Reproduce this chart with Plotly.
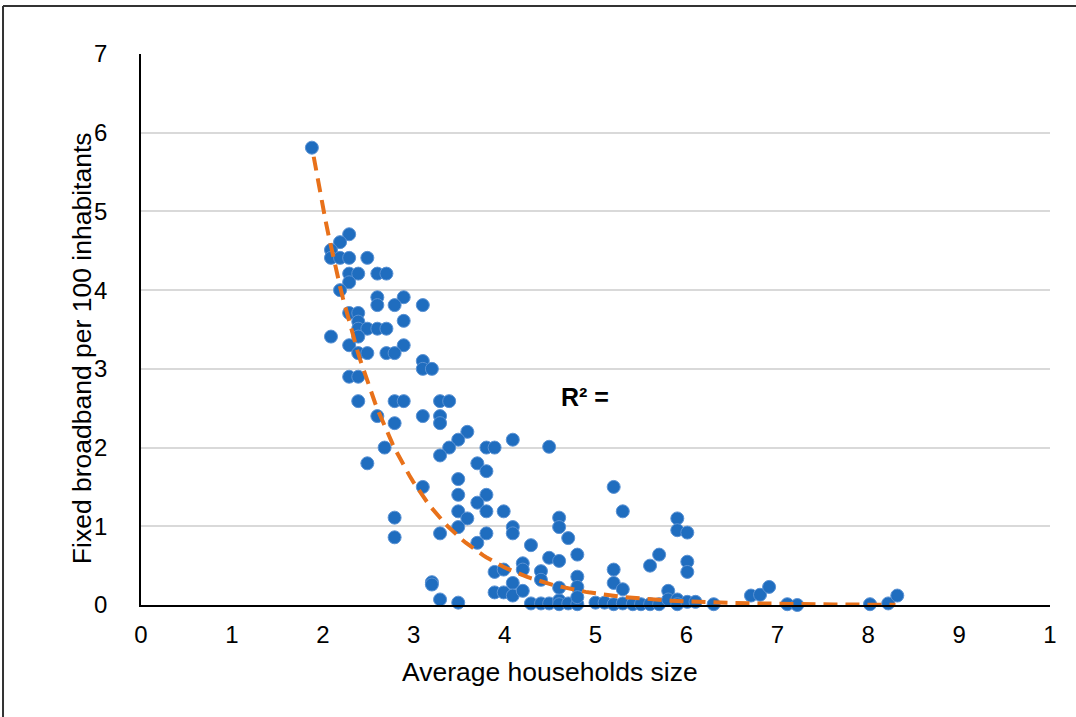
import numpy as np
import plotly.graph_objects as go

# Average households size (x) and fixed broadband per 100 inhabitants (y)
household_size = [
    1.88, 2.29, 2.19, 2.09, 2.09, 2.19, 2.29, 2.49, 2.29, 2.39, 2.60, 2.70, 2.29, 2.19,
    2.60, 2.89, 2.60, 2.79, 3.10, 2.29, 2.39, 2.89, 2.39, 2.39, 2.49, 2.60, 2.70, 2.09,
    2.39, 2.29, 2.89, 2.39, 2.49, 2.70, 2.79, 3.10, 3.10, 3.20, 2.29, 2.39, 2.39, 2.79,
    2.89, 3.29, 3.39, 2.60, 2.79, 3.10, 3.29, 3.29, 3.59, 3.49, 3.39, 3.29, 2.68, 2.49,
    3.80, 3.89, 4.09, 3.70, 3.80, 3.49, 3.10, 3.49, 3.80, 3.70, 3.99, 3.49, 3.80, 3.59,
    2.79, 4.09, 4.09, 3.49, 3.29, 3.80, 2.79, 3.70, 4.29, 4.20, 4.20, 3.89, 3.99, 4.09,
    3.20, 3.20, 3.29, 3.49, 3.89, 3.99, 4.09, 4.20, 4.29, 4.40, 4.49, 4.60, 4.60, 4.70,
    4.80, 4.49, 4.49, 4.60, 4.60, 4.70, 4.60, 4.80, 4.40, 4.40, 4.80, 4.80, 4.60, 4.80,
    5.00, 5.10, 5.20, 5.30, 5.20, 5.20, 5.30, 5.20, 5.30, 5.41, 5.50, 5.60, 5.70, 5.80,
    5.90, 5.90, 6.01, 6.01, 6.01, 5.60, 5.70, 5.80, 5.90, 5.90, 6.01, 6.10, 6.30, 6.71,
    6.81, 6.91, 7.11, 7.22, 8.02, 8.22, 8.32,
]
broadband = [
    5.81, 4.71, 4.61, 4.51, 4.41, 4.41, 4.41, 4.41, 4.21, 4.21, 4.21, 4.21, 4.10, 4.00,
    3.91, 3.91, 3.81, 3.81, 3.81, 3.71, 3.71, 3.61, 3.60, 3.51, 3.51, 3.51, 3.51, 3.41,
    3.41, 3.30, 3.30, 3.20, 3.20, 3.20, 3.20, 3.10, 3.00, 3.00, 2.90, 2.90, 2.59, 2.59,
    2.59, 2.59, 2.59, 2.40, 2.31, 2.40, 2.40, 2.31, 2.20, 2.10, 2.00, 1.90, 2.00, 1.80,
    2.00, 2.00, 2.10, 1.80, 1.70, 1.60, 1.50, 1.40, 1.40, 1.30, 1.19, 1.19, 1.19, 1.10,
    1.11, 0.99, 0.91, 0.99, 0.91, 0.91, 0.86, 0.79, 0.76, 0.53, 0.45, 0.42, 0.45, 0.28,
    0.29, 0.26, 0.07, 0.03, 0.16, 0.16, 0.12, 0.18, 0.02, 0.02, 0.02, 0.06, 0.01, 0.02,
    0.01, 2.01, 0.60, 1.11, 0.99, 0.85, 0.56, 0.64, 0.43, 0.32, 0.36, 0.23, 0.22, 0.10,
    0.03, 0.03, 1.50, 1.19, 0.45, 0.28, 0.20, 0.01, 0.02, 0.01, 0.01, 0.50, 0.64, 0.18,
    1.10, 0.95, 0.92, 0.55, 0.42, 0.01, 0.01, 0.07, 0.07, 0.01, 0.04, 0.04, 0.01, 0.12,
    0.13, 0.23, 0.01, 0.00, 0.01, 0.02, 0.12,
]

# Exponential trendline y = a * exp(-b x)
trend_a = 53.6
trend_b = 1.18
trend_x_start, trend_x_end = 1.9, 8.3

x_tick_vals = [0, 1, 2, 3, 4, 5, 6, 7, 8, 9, 10]
x_tick_text = ["0", "1", "2", "3", "4", "5", "6", "7", "8", "9", "1"]
y_tick_vals = [0, 1, 2, 3, 4, 5, 6, 7]

x_title = "Average households size"
y_title = "Fixed broadband per 100 inhabitants"
r2_label = "<b>R² =</b>"

FONT = "Liberation Sans, Arial, sans-serif"

tx = np.linspace(trend_x_start, trend_x_end, 200)
ty = trend_a * np.exp(-trend_b * tx)

fig = go.Figure()
fig.add_trace(go.Scatter(
    x=household_size, y=broadband, mode="markers",
    marker=dict(size=13, color="#1f6dbf", line=dict(color="#5a92d4", width=1)),
    cliponaxis=False, showlegend=False,
))
fig.add_trace(go.Scatter(
    x=tx, y=ty, mode="lines",
    line=dict(color="#e8711a", width=4, dash="14px,8px"),
    cliponaxis=False, showlegend=False,
))

fig.update_layout(
    width=1076, height=717,
    margin=dict(l=141, r=26, t=54, b=112),
    paper_bgcolor="white", plot_bgcolor="white",
    font=dict(family=FONT, color="black", size=24),
    xaxis=dict(
        range=[0, 10], tickvals=x_tick_vals, ticktext=x_tick_text,
        showgrid=False, zeroline=False, showline=True, linecolor="black", linewidth=1.5,
        ticks="", ticklabelstandoff=7, tickfont=dict(size=24, family=FONT),
    ),
    yaxis=dict(
        range=[0, 7], tickvals=y_tick_vals,
        showgrid=True, gridcolor="#d9d9d9", gridwidth=1.5,
        zeroline=False, showline=True, linecolor="black", linewidth=1.5,
        ticks="", ticklabelstandoff=27, tickfont=dict(size=24, family=FONT),
    ),
    annotations=[
        dict(text=x_title, xref="x", yref="paper", x=4.5, y=-0.122,
             showarrow=False, font=dict(size=26.5, family=FONT), xanchor="center", yanchor="middle"),
        dict(text=y_title, xref="paper", yref="paper", x=-0.065, y=0.466,
             textangle=-90, showarrow=False, font=dict(size=26.5, family=FONT),
             xanchor="center", yanchor="middle"),
        dict(text=r2_label, xref="x", yref="y", x=4.88, y=2.64, showarrow=False,
             font=dict(size=25, family=FONT), xanchor="center", yanchor="middle"),
    ],
    shapes=[
        dict(type="line", xref="paper", yref="paper", x0=-0.1518, x1=-0.1518, y0=-0.25, y1=1.087,
             line=dict(color="#333333", width=2)),
        dict(type="line", xref="paper", yref="paper", x0=-0.1518, x1=1.1, y0=1.087, y1=1.087,
             line=dict(color="#333333", width=2)),
    ],
)

fig.write_html("out.html", config={"displayModeBar": False},
               post_script="document.body.style.margin='0';")
